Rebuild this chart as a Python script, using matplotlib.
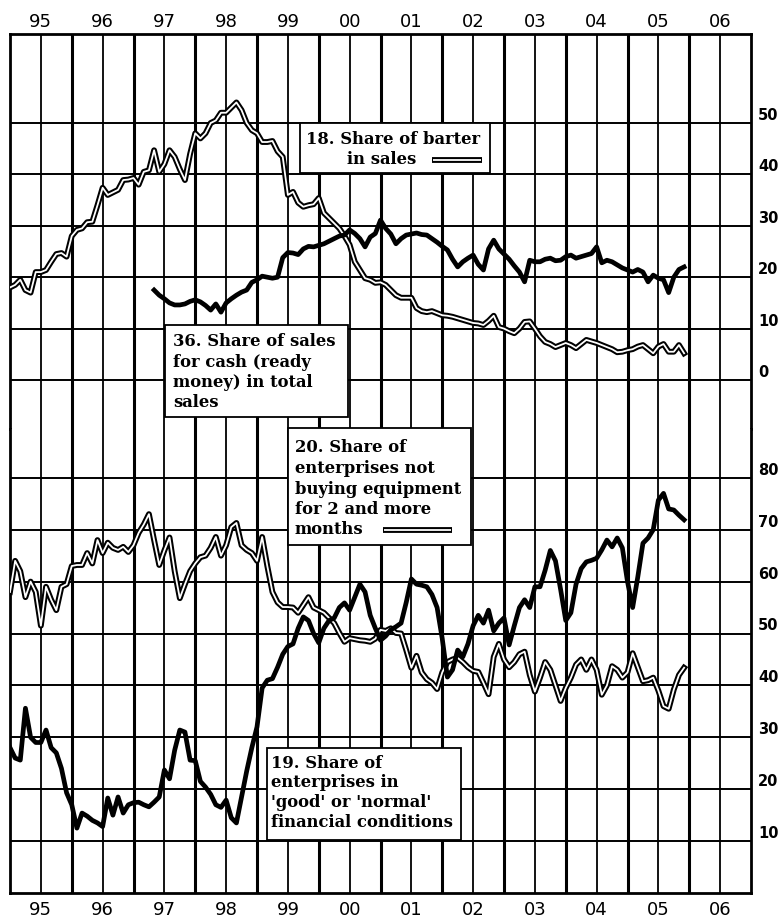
import numpy as np
import matplotlib
matplotlib.use('Agg')
from matplotlib import pyplot as plt
from matplotlib.patches import Rectangle

W, H = 784, 918

# monthly values, Jan 1995 onwards
year_labels = ['95', '96', '97', '98', '99', '00', '01', '02', '03', '04', '05', '06']
first_year = 1995

# 18. Share of barter in sales (upper panel)
barter = [18, 18.5, 19.5, 17.5, 17, 21, 21, 21.4, 23, 24.5, 24.7, 24,
          28, 29.2, 29.5, 30.7, 30.8, 34, 37.4, 36, 36.5, 37, 38.9, 39,
          39.3, 38, 40.5, 40.8, 44.7, 40.5, 42, 44.7, 43.4, 41, 38.9, 44,
          48, 47, 48, 50, 50.5, 52, 52, 53, 54, 52.5, 50, 48.6,
          48, 46.3, 46.3, 46.5, 44.5, 43.4, 36, 36.6, 34.5, 33.7, 34, 34.2,
          35.4, 32.5, 31.5, 30.5, 29.5, 28, 26.3, 23, 21.4, 19.8, 19.5, 18.9,
          19, 18.5, 17.5, 16.5, 16, 16, 16, 14, 13.4, 13.2, 13.4, 13,
          12.6, 12.5, 12.3, 12, 11.7, 11.4, 11.1, 11, 10.7, 11.5, 12.5, 10.3,
          10, 9.5, 9.1, 10, 11.3, 11.4, 10, 8.5, 7.4, 7, 6.4, 6.8,
          7.2, 6.8, 6.2, 7, 7.8, 7.5, 7.2, 6.8, 6.4, 6, 5.4, 5.5,
          5.8, 6, 6.5, 6.8, 6, 5.2, 6.5, 7, 5.5, 5.5, 6.8, 5.2]

# 36. Share of sales for cash in total sales (upper panel), from May 1997
cash_start = 28
cash = [17.5, 16.5, 15.8, 15, 14.6, 14.6, 14.8, 15.3,
        15.6, 15.2, 14.5, 13.6, 14.8, 13.2, 15, 15.8, 16.5, 17.1, 17.5, 19,
        19.5, 20.2, 20, 19.8, 20, 23.8, 24.8, 24.7, 24.4, 25.5, 26, 25.9,
        26.2, 26.5, 27, 27.5, 28, 28.2, 29.2, 28.5, 27.5, 25.9, 27.8, 28.5,
        31.1, 29.5, 28.4, 26.5, 27.5, 28.2, 28.4, 28.6, 28.3, 28.2, 27.5, 26.8,
        26, 25.3, 23.5, 22, 23, 23.7, 24.3, 22.5, 21.4, 25.5, 27.2, 25.5,
        24.5, 23.5, 22.2, 21, 19.1, 23.3, 23, 23, 23.5, 23.7, 23.2, 23.3,
        24, 24.3, 23.7, 24, 24.3, 24.6, 25.9, 22.8, 23.3, 23, 22.4, 21.8,
        21.4, 21, 21.5, 21, 19.1, 20.4, 19.8, 19.5, 17, 20, 21.5, 22]

# 20. Share of enterprises not buying equipment for 2 and more months (lower panel)
no_equipment = [58, 64, 62, 57, 60, 58, 51.5, 59, 56.5, 54.5, 59, 59.5,
                63, 63.2, 63.2, 65.5, 63.5, 68, 65.5, 67.5, 66.5, 66.1, 66.7, 65.7,
                67, 69.4, 71, 73, 68, 63.2, 66, 68.5, 62, 56.8, 59.5, 62,
                63.5, 64.7, 65, 66.5, 68.6, 65, 67, 70.5, 71.3, 67, 66.1, 65.5,
                64, 68.6, 63, 58, 56, 55.1, 55.1, 55, 54, 55.5, 57, 55,
                54.5, 54, 53, 52, 50.1, 48.4, 49.1, 48.9, 48.7, 48.6, 48.4, 49,
                50.7, 50.5, 51, 50.1, 50, 46.8, 43.4, 45.7, 42.5, 41.2, 40.5, 39.3,
                42.5, 44.5, 45, 45.3, 44.5, 43.5, 42.8, 42.6, 40.5, 38.3, 45.5, 48,
                45, 43.5, 44.5, 46, 46.5, 42, 38.8, 41.5, 44.5, 43, 40, 37,
                39.5, 41.5, 44, 45, 43, 45, 43, 38.2, 40, 43.7, 43, 41.5,
                42.5, 46.2, 43.5, 40.8, 41, 41.5, 39, 36, 35.5, 39.2, 42, 43.4]

# 19. Share of enterprises in 'good' or 'normal' financial conditions (lower panel)
good_fin = [28, 26, 25.6, 35.6, 30, 29, 29, 31.4, 28, 27, 24, 19.3,
            17, 12.5, 15.4, 14.8, 14, 13.5, 12.8, 18.3, 15, 18.5, 15.4, 17,
            17.4, 17.5, 17, 16.6, 17.5, 18.5, 23.7, 22, 27.5, 31.4, 31, 25.6,
            25.5, 21.5, 20.4, 19, 17, 16.5, 17.9, 14.5, 13.5, 18.5, 23.5, 28,
            32, 39.5, 41, 41.3, 43.5, 46, 47.5, 48, 51, 53.2, 52.5, 50,
            48.2, 51, 52.5, 53, 55, 55.9, 54.5, 57, 59.5, 58, 53.5, 51,
            48.7, 49.5, 50.7, 51.3, 52, 56, 60.5, 59.5, 59.3, 59, 57.5, 55,
            49, 41.6, 43, 46.8, 45.5, 48, 51.5, 53.5, 52, 54.5, 50.5, 52,
            53, 47.8, 51.5, 55, 56.5, 55, 59, 59, 62.2, 66, 64, 58.5,
            52.5, 54, 59.5, 62.5, 63.8, 64.1, 64.5, 66.1, 68, 66.7, 68.4, 66.5,
            60, 55, 60.9, 67.4, 68.4, 70, 75.7, 77, 74, 73.8, 72.8, 71.9]

upper_ticks = [0, 10, 20, 30, 40, 50]
lower_ticks = [10, 20, 30, 40, 50, 60, 70, 80]


def months(start, n):
    return first_year + (start + np.arange(n)) / 12.0


fig = plt.figure(figsize=(W / 100, H / 100), dpi=100)
fig.patch.set_facecolor('white')

# frame: x 10..751, y 34..893 ; panels split at y=429
left, right, top, split, bottom = 10, 751, 34, 429, 893
ax_top = fig.add_axes([left / W, 1 - split / H, (right - left) / W, (split - top) / H])
ax_bot = fig.add_axes([left / W, 1 - bottom / H, (right - left) / W, (bottom - split) / H])

ax_top.set_ylim(-(split - 380) / 5.14, (380 - top) / 5.14)
ax_bot.set_ylim(0, (bottom - split) / 5.19)

n_years = len(year_labels)
for ax in (ax_top, ax_bot):
    ax.set_xlim(first_year, first_year + n_years)
    # thick lines at year starts, thin ones mid-year
    for yr in range(1, n_years):
        ax.axvline(first_year + yr, color='black', lw=2.2, zorder=2)
    for yr in range(n_years):
        ax.axvline(first_year + yr + 0.5, color='black', lw=1.3, zorder=2)
    for s in ax.spines.values():
        s.set_linewidth(2.0)
    ax.yaxis.tick_right()
    ax.tick_params(axis='y', length=0, pad=5)

ax_top.spines['bottom'].set_visible(False)
ax_bot.spines['top'].set_visible(False)

for v in upper_ticks:
    ax_top.axhline(v, color='black', lw=1.4, zorder=2)
for v in lower_ticks:
    ax_bot.axhline(v, color='black', lw=1.4, zorder=2)

ax_top.set_yticks(upper_ticks)
ax_top.set_yticklabels([str(v) for v in upper_ticks], fontsize=10.5, fontweight='bold',
                       va='bottom')
ax_bot.set_yticks(lower_ticks)
ax_bot.set_yticklabels([str(v) for v in lower_ticks], fontsize=10.5, fontweight='bold',
                       va='bottom')

mid_years = [first_year + i + 0.5 for i in range(n_years)]
ax_top.xaxis.tick_top()
ax_top.set_xticks(mid_years)
ax_top.set_xticklabels(year_labels, fontsize=13)
ax_top.tick_params(axis='x', length=0, pad=2)
ax_bot.set_xticks(mid_years)
ax_bot.set_xticklabels(year_labels, fontsize=13)
ax_bot.tick_params(axis='x', length=0, pad=6)


def double_line(ax, x, y):
    ax.plot(x, y, color='black', lw=4.2, zorder=3, solid_joinstyle='round')
    ax.plot(x, y, color='white', lw=1.3, zorder=4, solid_joinstyle='round')


double_line(ax_top, months(0, len(barter)), barter)
ax_top.plot(months(cash_start, len(cash)), cash, color='black', lw=3.4, zorder=5,
            solid_joinstyle='round')

double_line(ax_bot, months(0, len(no_equipment)), no_equipment)
ax_bot.plot(months(0, len(good_fin)), good_fin, color='black', lw=3.4, zorder=5,
            solid_joinstyle='round')

# overlay for the label boxes, in pixel coords
ov = fig.add_axes([0, 0, 1, 1], zorder=10)
ov.set_xlim(0, W)
ov.set_ylim(H, 0)
ov.axis('off')
ov.patch.set_alpha(0)

box_font = dict(family='DejaVu Serif', fontweight='bold', fontsize=11.8, va='center',
                ha='left', zorder=12)


def box(x0, y0, x1, y1):
    ov.add_patch(Rectangle((x0, y0), x1 - x0, y1 - y0, facecolor='white',
                           edgecolor='black', lw=1.3, zorder=11))


def sample(x0, x1, y):
    ov.plot([x0, x1], [y, y], color='black', lw=4.2, zorder=12, solid_capstyle='butt')
    ov.plot([x0 + 1, x1 - 1], [y, y], color='white', lw=1.3, zorder=13,
            solid_capstyle='butt')


box(300, 123, 490, 173)
ov.text(306, 139, '18. Share of barter', **box_font)
ov.text(347, 160, 'in sales', **box_font)
sample(432, 482, 160)

box(165, 325, 348, 417)
for i, line in enumerate(['36. Share of sales', 'for cash (ready',
                          'money) in total', 'sales']):
    ov.text(173, 342 + i * 20.3, line, **box_font)

box(288, 428, 471, 545)
for i, line in enumerate(['20. Share of', 'enterprises not', 'buying equipment',
                          'for 2 and more', 'months']):
    ov.text(295, 448 + i * 20.5, line, **box_font)
sample(383, 452, 530)

box(267, 748, 461, 840)
for i, line in enumerate(['19. Share of', 'enterprises in', "'good' or 'normal'",
                          'financial conditions']):
    ov.text(271, 763 + i * 19.7, line, **box_font)

fig.savefig('out.png', dpi=100, facecolor='white')
